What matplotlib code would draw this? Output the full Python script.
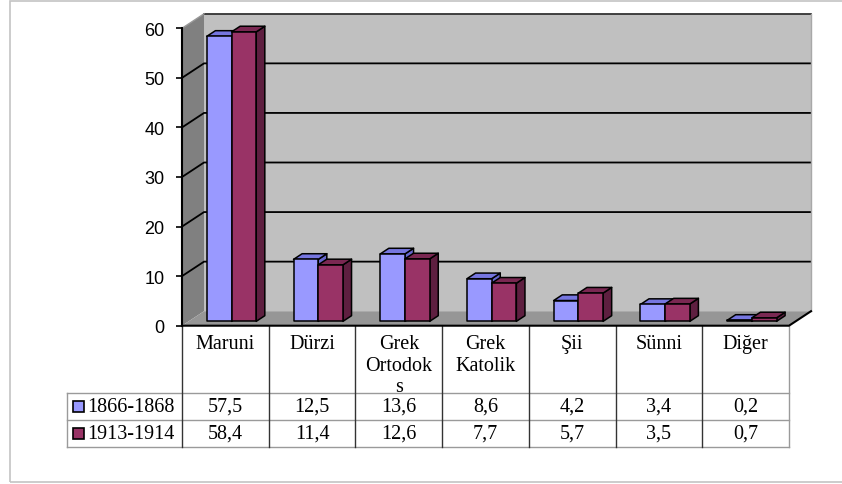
import matplotlib
matplotlib.use("Agg")
import matplotlib.pyplot as plt
from matplotlib.patches import Polygon, Rectangle
from matplotlib.transforms import blended_transform_factory

# data
categories = ["Maruni", "Dürzi", "Grek\nOrtodok\ns", "Grek\nKatolik", "Şii", "Sünni", "Diğer"]
series_names = ["1866-1868", "1913-1914"]
values_1866 = [57.5, 12.5, 13.6, 8.6, 4.2, 3.4, 0.2]
values_1913 = [58.4, 11.4, 12.6, 7.7, 5.7, 3.5, 0.7]
value_labels_1866 = ["57,5", "12,5", "13,6", "8,6", "4,2", "3,4", "0,2"]
value_labels_1913 = ["58,4", "11,4", "12,6", "7,7", "5,7", "3,5", "0,7"]
yticks = [0, 10, 20, 30, 40, 50, 60]

W, H = 842, 485
fig = plt.figure(figsize=(W / 100, H / 100), dpi=100)
fig.patch.set_facecolor("white")


def fy(p):
    # pixel row -> figure fraction
    return 1 - p / H


def fx(p):
    return p / W


# outer frame
fig.patches.append(Rectangle((fx(10), fy(483)), 1.0, fy(1.5) - fy(483), transform=fig.transFigure,
                             fill=False, ec="#c4c4c4", lw=1.2))

ax = fig.add_axes([fx(182), fy(326.7), fx(789) - fx(182), fy(29.3) - fy(326.7)])
n = len(categories)
ax.set_xlim(0, n)
ax.set_ylim(0, 60)
ax.patch.set_visible(False)
for s in ["top", "right", "bottom"]:
    ax.spines[s].set_visible(False)
ax.spines["left"].set_linewidth(1.5)
ax.spines["left"].set_zorder(10)
ax.set_xticks([])
ax.set_yticks(yticks)
ax.tick_params(axis="y", length=4.5, width=1.2, pad=8)
for lab in ax.get_yticklabels():
    lab.set_fontfamily("Liberation Sans")
    lab.set_fontsize(13)

# depth of the 3d box in data units
dxw = 22 / 86.7
dyw = 14.5 / 4.957
ymax = 60

ax.add_patch(Polygon([(dxw, dyw), (n + dxw, dyw), (n + dxw, ymax + dyw), (dxw, ymax + dyw)],
                     closed=True, fc="#c0c0c0", ec="none", clip_on=False, zorder=1))
ax.add_patch(Polygon([(0, 0), (dxw, dyw), (dxw, ymax + dyw), (0, ymax)],
                     closed=True, fc="#808080", ec="none", clip_on=False, zorder=1))
ax.add_patch(Polygon([(0, 0), (n, 0), (n + dxw, dyw), (dxw, dyw)],
                     closed=True, fc="#969696", ec="none", clip_on=False, zorder=1))

# gridlines over the side wall and back wall
for v in yticks[1:-1]:
    ax.plot([0, dxw, n + dxw], [v, v + dyw, v + dyw], color="black", lw=1.3, clip_on=False, zorder=2)
ax.plot([dxw, n + dxw], [ymax + dyw, ymax + dyw], color="#333333", lw=1.3, clip_on=False, zorder=2)
ax.plot([0, dxw], [ymax, ymax + dyw], color="#999999", lw=1.0, clip_on=False, zorder=2)
ax.plot([n + dxw, n + dxw], [dyw, ymax + dyw], color="#a8a8a8", lw=1.0, clip_on=False, zorder=2)
ax.plot([0, n, n + dxw], [0, 0, dyw], color="black", lw=1.5, clip_on=False, zorder=9)

# 3d bars
bf, bd = 0.3, 0.39
bw = 0.285
face_cols = [("#9999ff", "#7676e0", "#6666cc"), ("#993366", "#7a2852", "#5e1f40")]
for i in range(n):
    for s, vals in enumerate([values_1866, values_1913]):
        front, top, side = face_cols[s]
        v = vals[i]
        x0 = i + 0.21 + s * bw + bf * dxw
        x1 = x0 + bw
        y0 = bf * dyw
        y1 = v + bf * dyw
        ddx, ddy = bd * dxw, bd * dyw
        z = 3 + s
        kw = dict(closed=True, ec="black", lw=1.1, clip_on=False, zorder=z, joinstyle="round")
        ax.add_patch(Polygon([(x1, y0), (x1 + ddx, y0 + ddy), (x1 + ddx, y1 + ddy), (x1, y1)], fc=side, **kw))
        ax.add_patch(Polygon([(x0, y1), (x1, y1), (x1 + ddx, y1 + ddy), (x0 + ddx, y1 + ddy)], fc=top, **kw))
        ax.add_patch(Polygon([(x0, y0), (x1, y0), (x1, y1), (x0, y1)], fc=front, **kw))

# data table under the chart
tr = blended_transform_factory(ax.transData, fig.transFigure)
leg_x = (66.7 - 182) / 86.7
row_top, row_mid, row_bot = 394, 421, 447.7
for yy in [row_top, row_mid, row_bot]:
    ax.plot([leg_x, n], [fy(yy), fy(yy)], transform=tr, color="#9a9a9a", lw=1.0, clip_on=False)
ax.plot([leg_x, leg_x], [fy(row_top), fy(row_bot)], transform=tr, color="#9a9a9a", lw=1.0, clip_on=False)
for k in range(n + 1):
    col = "#9a9a9a" if k == n else "#333333"
    ax.plot([k, k], [fy(326.7), fy(row_bot)], transform=tr, color=col, lw=1.0, clip_on=False)

serif = "Liberation Serif"
fs = 14.5
for i, cat in enumerate(categories):
    ax.text(i + 0.5, fy(335), cat, transform=tr, ha="center", va="top", fontsize=fs,
            family=serif, linespacing=1.18)
    ax.text(i + 0.5, fy((row_top + row_mid) / 2), value_labels_1866[i], transform=tr,
            ha="center", va="center", fontsize=fs, family=serif)
    ax.text(i + 0.5, fy((row_mid + row_bot) / 2), value_labels_1913[i], transform=tr,
            ha="center", va="center", fontsize=fs, family=serif)

for r, (name, col) in enumerate(zip(series_names, ["#9999ff", "#993366"])):
    cy = (row_top + row_mid) / 2 if r == 0 else (row_mid + row_bot) / 2
    fig.patches.append(Rectangle((fx(72.5), fy(cy + 5.5)), fx(11), fy(cy - 5.5) - fy(cy + 5.5),
                                 transform=fig.transFigure, fc=col, ec="black", lw=1.2))
    fig.text(fx(87.5), fy(cy), name, ha="left", va="center", fontsize=fs, family=serif)

fig.savefig("out.png", dpi=100)
